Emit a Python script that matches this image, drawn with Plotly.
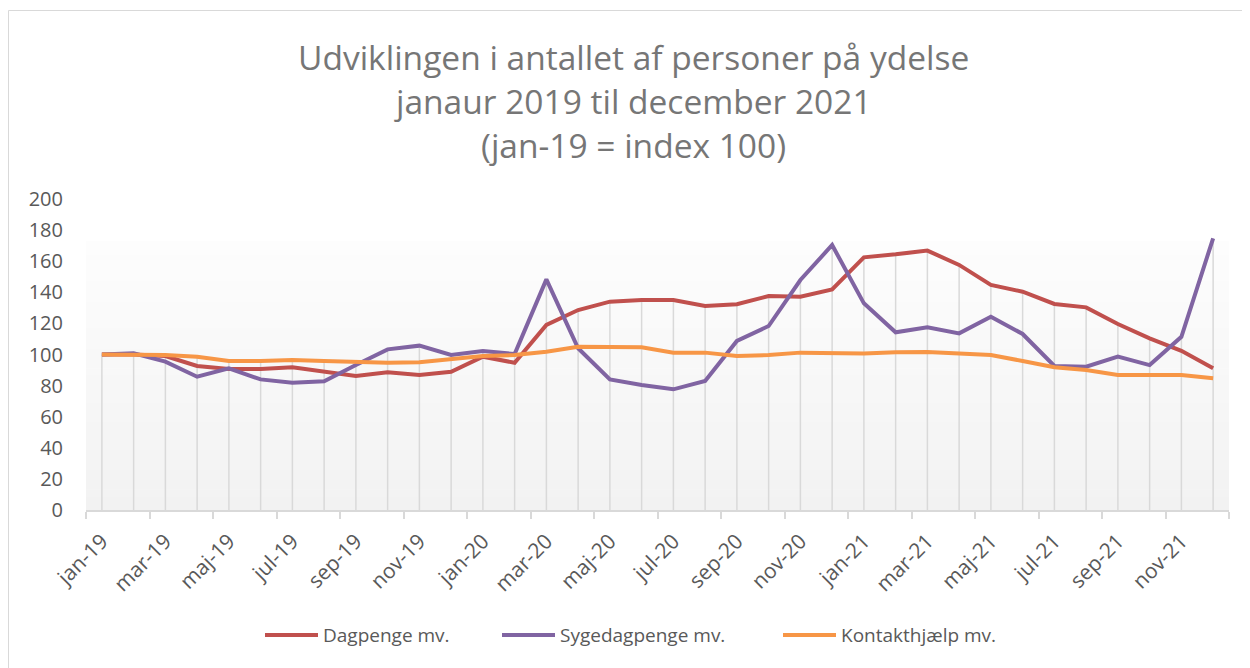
import plotly.graph_objects as go

# Data (index, jan-19 = 100)
months = ["jan", "feb", "mar", "apr", "maj", "jun", "jul", "aug", "sep", "okt", "nov", "dec"]
years = ["19", "20", "21"]
labels = [f"{m}-{y}" for y in years for m in months]

dagpenge = [100, 100, 99, 92.6, 90.7, 90.7, 91.8, 88.9, 86.2, 88.5, 86.8, 88.9,
            98.6, 94.7, 119, 128.6, 134, 135, 135, 131.2, 132.3, 137.6, 137.2, 141.9,
            162.5, 164.4, 166.8, 157.6, 144.7, 140.4, 132.5, 130.3, 119.6, 110.4, 102.4, 91.1]
sygedagpenge = [100, 100.8, 95.4, 85.7, 91.1, 84, 81.9, 82.8, 93.2, 103.3, 105.7, 99.7,
                102.2, 100.3, 148.3, 104, 84, 80.4, 77.6, 83, 108.7, 118.3, 147.9, 170.4,
                132.9, 114.3, 117.5, 113.6, 124.3, 113.2, 92.6, 92.2, 98.6, 93.2, 111.4, 174.7]
kontakthjaelp = [100, 100, 99.7, 98.6, 95.8, 95.8, 96.5, 95.8, 95.4, 94.7, 95, 96.9,
                 99, 99.7, 101.8, 105, 105, 104.6, 101.2, 101.2, 99, 99.7, 101.2, 100.7,
                 100.7, 101.4, 101.6, 100.7, 99.7, 95.8, 91.8, 90, 86.8, 86.8, 86.8, 84.7]

series_names = ["Dagpenge mv.", "Sygedagpenge mv.", "Kontakthjælp mv."]
series_values = [dagpenge, sygedagpenge, kontakthjaelp]
colors = ["#C0504D", "#8064A2", "#F79646"]

title_lines = ["Udviklingen i antallet af personer på ydelse",
               "janaur 2019 til december 2021",
               "(jan-19 = index 100)"]

FONT = "Open Sans"
TXT = "#595959"

# the page body adds an 8px offset, so target pixel positions are shifted by it
OFF = 8
W, H = 1250, 668
PL, PR, PT, PB = 86 - OFF, 1229 - OFF, 199 - OFF, 510 - OFF
L, R, T, B = PL, W - PR, PT, H - PB
pw, ph = PR - PL, PB - PT


def px_x(v):
    return (v - OFF - PL) / pw


def px_y(v):
    return (PB - (v - OFF)) / ph


x = list(range(len(labels)))

fig = go.Figure()

# drop lines from the axis up to the highest series
dx, dy = [], []
for i in x:
    top = max(s[i] for s in series_values)
    dx += [i, i, None]
    dy += [0, top, None]
fig.add_trace(go.Scatter(x=dx, y=dy, mode="lines", line=dict(color="#d9d9d9", width=1.5),
                         hoverinfo="skip", showlegend=False))

for name, vals, c in zip(series_names, series_values, colors):
    fig.add_trace(go.Scatter(x=x, y=vals, name=name, mode="lines",
                             line=dict(color=c, width=4), showlegend=False))

# gradient plot background
shapes = []
n = 40
top_frac = px_y(241)
for k in range(n):
    f0 = top_frac * k / n
    f1 = top_frac * (k + 1) / n + 0.002
    t = k / (n - 1)
    v = int(round(242 + (253 - 242) * t))
    shapes.append(dict(type="rect", xref="x domain", yref="y domain", x0=0, x1=1, y0=f0, y1=min(f1, top_frac),
                       fillcolor=f"rgb({v},{v},{v})", line=dict(width=0), layer="below"))
# chart border
shapes.append(dict(type="rect", xref="paper", yref="paper",
                   x0=px_x(8.5), x1=px_x(1275), y0=px_y(700), y1=px_y(10.5),
                   line=dict(color="#d9d9d9", width=1), fillcolor="rgba(0,0,0,0)", layer="below"))

annotations = []
for txt, ypx in zip(title_lines, [57, 101, 145]):
    annotations.append(dict(text=txt, xref="paper", yref="paper",
                            x=px_x(633), y=px_y(ypx),
                            xanchor="center", yanchor="middle", showarrow=False,
                            font=dict(family=FONT, size=33.5, color="#767676")))

# legend (drawn by hand so the line keys match the reference length)
leg_x = [265, 502, 783]
leg_y = 635
for name, c, lx in zip(series_names, colors, leg_x):
    shapes.append(dict(type="line", xref="paper", yref="paper",
                       x0=px_x(lx), x1=px_x(lx + 53), y0=px_y(leg_y), y1=px_y(leg_y),
                       line=dict(color=c, width=4)))
    annotations.append(dict(text=name, xref="paper", yref="paper",
                            x=px_x(lx + 56), y=px_y(leg_y),
                            xanchor="left", yanchor="middle", showarrow=False,
                            font=dict(family=FONT, size=19, color=TXT)))

fig.update_layout(
    width=W, height=H,
    margin=dict(l=L, r=R, t=T, b=B),
    paper_bgcolor="white", plot_bgcolor="white",
    font=dict(family=FONT, color=TXT),
    shapes=shapes, annotations=annotations,
)

fig.update_xaxes(
    range=[-0.5, len(labels) - 0.5],
    tickvals=x[::2], ticktext=labels[::2],
    tickangle=-45, ticks="", ticklabelstandoff=9,
    tickfont=dict(family=FONT, size=21, color=TXT),
    showgrid=False, zeroline=False,
    showline=True, linecolor="#d9d9d9", linewidth=1.5,
    minor=dict(tick0=-0.5, dtick=2, ticks="outside", ticklen=7, tickcolor="#d9d9d9", tickwidth=1.5, showgrid=False),
)
fig.update_yaxes(
    range=[0, 200], tickvals=list(range(0, 201, 20)),
    showgrid=False, zeroline=False, showline=False, ticks="",
    ticklabelstandoff=22,
    tickfont=dict(family=FONT, size=20, color=TXT),
)

fig.write_html("out.html")
